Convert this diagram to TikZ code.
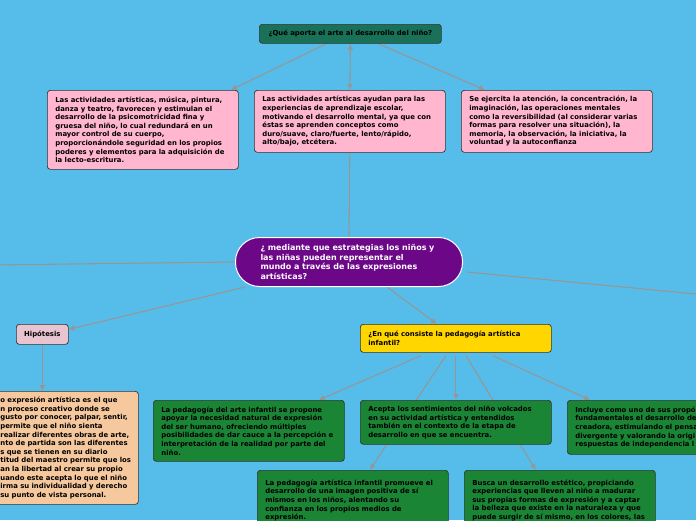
\documentclass[tikz,border=0pt]{standalone}
\usepackage{fontspec}
\setmainfont{DejaVu Sans}
\usepackage{xcolor}
\usetikzlibrary{
  arrows.meta,
  calc,
  backgrounds
}

% palette
\definecolor{bgblue}{RGB}{86,189,235}
\definecolor{topteal}{RGB}{25,114,88}
\definecolor{pinkfill}{RGB}{255,182,206}
\definecolor{hubpurple}{RGB}{108,8,136}
\definecolor{hippink}{RGB}{231,196,208}
\definecolor{orangefill}{RGB}{246,200,158}
\definecolor{yellowfill}{RGB}{255,214,0}
\definecolor{greenfill}{RGB}{27,133,54}
\definecolor{linkgray}{RGB}{150,150,150}

\begin{document}
\begin{tikzpicture}[
  x=1pt, y=-1pt,
  every node/.style={font=\fontsize{6.9}{8.6}\selectfont\bfseries},
  box/.style={rectangle, rounded corners=3pt, draw=black!80, line width=0.7pt,
    anchor=north west, align=left, inner ysep=2pt},
  pinkbox/.style={box, fill=pinkfill, minimum width=191pt, inner xsep=8pt, text width=175pt},
  greenbox/.style={box, fill=greenfill, minimum width=191pt, inner xsep=8pt, text width=175pt},
  link/.style={draw=linkgray, line width=1.1pt},
  tip/.style={link, -{Latex[length=6pt,width=6pt]}}
]
  \useasboundingbox (0,0) rectangle (696,520);

  % question on top
  \node[box, fill=topteal, align=center, inner xsep=6pt, text width=170pt,
    minimum height=19pt] (top) at (259,24) {¿Qué aporta el arte al desarrollo del niño?};

  % answers
  \node[pinkbox, minimum height=79pt] (pinkA) at (47,90) {Las actividades artísticas, música, pintura,\\
    danza y teatro, favorecen y estimulan el\\
    desarrollo de la psicomotricidad fina y\\
    gruesa del niño, lo cual redundará en un\\
    mayor control de su cuerpo,\\
    proporcionándole seguridad en los propios\\
    poderes y elementos para la adquisición de\\
    la lecto-escritura.};
  \node[pinkbox, minimum height=62pt] (pinkB) at (254,90) {Las actividades artísticas ayudan para las\\
    experiencias de aprendizaje escolar,\\
    motivando el desarrollo mental, ya que con\\
    éstas se aprenden conceptos como\\
    duro/suave, claro/fuerte, lento/rápido,\\
    alto/bajo, etcétera.};
  \node[pinkbox, minimum height=62pt] (pinkC) at (461,90) {Se ejercita la atención, la concentración, la\\
    imaginación, las operaciones mentales\\
    como la reversibilidad (al considerar varias\\
    formas para resolver una situación), la\\
    memoria, la observación, la iniciativa, la\\
    voluntad y la autoconfianza};

  % central question
  \node[box, fill=hubpurple, draw=white, line width=1pt, rounded corners=24pt,
    text=white, font=\fontsize{8}{9.7}\selectfont\bfseries, inner xsep=25pt,
    text width=177pt, minimum height=49pt] (hub) at (235,237) {¿ mediante que estrategias los niños y\\
    las niñas pueden representar el\\
    mundo a través de las expresiones\\
    artísticas?};

  % hypothesis branch
  \node[box, fill=hippink, align=center, inner xsep=2pt, text width=48pt,
    minimum height=20pt] (hip) at (16,324) {Hipótesis};
  \node[box, fill=orangefill, inner xsep=4pt, text width=134pt,
    minimum height=113pt] (hipText) at (-4,391) {o expresión artística es el que\\
    n proceso creativo donde se\\
    gusto por conocer, palpar, sentir,\\
    permite que el niño sienta\\
    realizar diferentes obras de arte,\\
    nto de partida son las diferentes\\
    s que se tienen en su diario\\
    titud del maestro permite que los\\
    an la libertad al crear su propio\\
    uando este acepta lo que el niño\\
    irma su individualidad y derecho\\
    su punto de vista personal.};

  % pedagogy branch
  \node[box, fill=yellowfill, minimum width=191pt, inner xsep=8pt, text width=175pt,
    minimum height=28pt] (ped) at (360,324) {¿En qué consiste la pedagogía artística\\
    infantil?};
  \node[greenbox, minimum height=61pt] (greenA) at (153,400) {La pedagogía del arte infantil se propone\\
    apoyar la necesidad natural de expresión\\
    del ser humano, ofreciendo múltiples\\
    posibilidades de dar cauce a la percepción e\\
    interpretación de la realidad por parte del\\
    niño.};
  \node[greenbox, minimum height=44pt] (greenB) at (360,400) {Acepta los sentimientos del niño volcados\\
    en su actividad artística y entendidos\\
    también en el contexto de la etapa de\\
    desarrollo en que se encuentra.};
  \node[greenbox, minimum height=54pt, text width=182pt] (greenC) at (567,400) {Incluye como uno de sus propó\\
    fundamentales el desarrollo de\\
    creadora, estimulando el pensa\\
    divergente y valorando la origi\\
    respuestas de independencia l};
  \node[greenbox, minimum height=60pt] (greenD) at (257,470) {La pedagogía artística infantil promueve el\\
    desarrollo de una imagen positiva de sí\\
    mismos en los niños, alentando su\\
    confianza en los propios medios de\\
    expresión.};
  \node[greenbox, minimum height=60pt] (greenE) at (464,470) {Busca un desarrollo estético, propiciando\\
    experiencias que lleven al niño a madurar\\
    sus propias formas de expresión y a captar\\
    la belleza que existe en la naturaleza y que\\
    puede surgir de sí mismo, en los colores, las};

  % loose ends off the page
  \coordinate (offL) at (-10,265);
  \coordinate (offR) at (706,295);

  \begin{scope}[on background layer]
    \fill[bgblue] (0,0) rectangle (696,520);
    % top question
    \draw[tip] ([xshift=-24pt]top.south) -- ([xshift=-8pt]pinkA.north east);
    \draw[link, {Latex[length=6pt,width=6pt]}-{Latex[length=6pt,width=6pt]}] (top.south) -- (pinkB.north);
    \draw[tip] ([xshift=28pt]top.south) -- ([xshift=24pt]pinkC.north west);
    \draw[link] (hub.north) -- (pinkB.south);
    % central question
    \draw[link] (hub.west) -- (offL);
    \draw[link] ([yshift=-10pt, xshift=4pt]hub.east) -- (offR);
    \draw[tip] ([xshift=10pt]hub.south west) -- ([yshift=5pt]hip.east);
    \draw[tip] (hip.south) -- (hip.south |- hipText.north);
    \draw[tip] ([xshift=38pt]hub.south) -- ([xshift=-19pt]ped.north);
    % pedagogy
    \draw[tip] ([xshift=-35pt, yshift=-3pt]ped.south) -- ([xshift=-26pt]greenA.north east);
    \draw[tip] ([xshift=-10pt, yshift=-3pt]ped.south) -- ([xshift=17pt]greenD.north);
    \draw[tip] ([yshift=-3pt]ped.south) -- (greenB.north);
    \draw[tip] ([xshift=10pt, yshift=-3pt]ped.south) -- ([xshift=-24pt]greenE.north);
    \draw[tip] ([xshift=37pt, yshift=-3pt]ped.south) -- ([xshift=23pt]greenC.north west);
  \end{scope}
\end{tikzpicture}
\end{document}
